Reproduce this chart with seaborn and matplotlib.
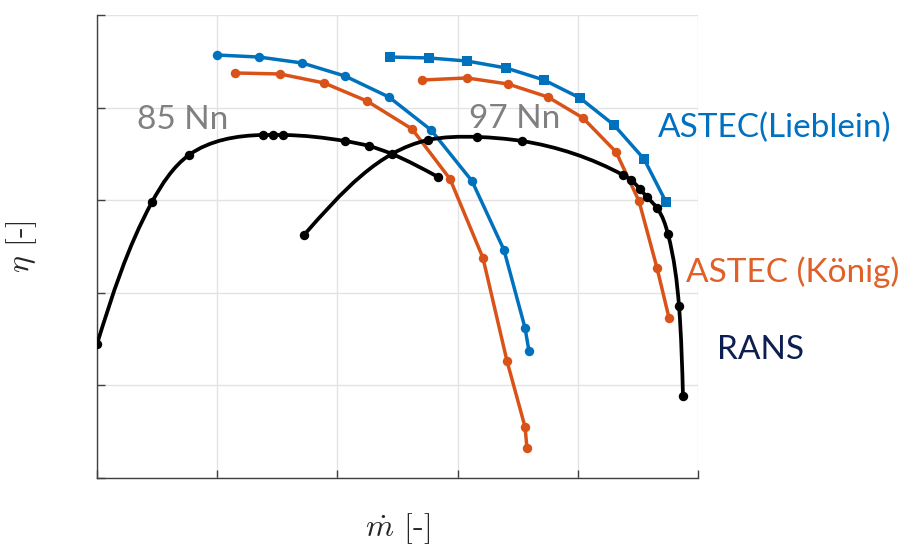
import numpy as np
import pandas as pd
import matplotlib
matplotlib.use("Agg")
import matplotlib.pyplot as plt
from matplotlib.path import Path
from matplotlib.patches import PathPatch
import seaborn as sns

# ---- data (normalised mass flow / efficiency) ----
# ASTEC (Lieblein), 85 % speed
lie85_m = [0.998, 1.348, 1.706, 2.063, 2.429, 2.779, 3.120, 3.386, 3.561, 3.594]
lie85_eta = [4.568, 4.546, 4.482, 4.341, 4.114, 3.758, 3.207, 2.462, 1.620, 1.371]
# ASTEC (König), 85 % speed
kon85_m = [1.148, 1.522, 1.889, 2.246, 2.621, 2.937, 3.211, 3.411, 3.561, 3.577]
kon85_eta = [4.374, 4.363, 4.266, 4.071, 3.769, 3.229, 2.376, 1.263, 0.551, 0.324]
# ASTEC (Lieblein), 97 % speed
lie97_m = [2.438, 2.762, 3.078, 3.403, 3.719, 4.018, 4.301, 4.551, 4.734]
lie97_eta = [4.546, 4.536, 4.503, 4.428, 4.298, 4.104, 3.812, 3.445, 2.981]
# ASTEC (König), 97 % speed
kon97_m = [2.704, 3.078, 3.419, 3.752, 4.043, 4.318, 4.509, 4.659, 4.759]
kon97_eta = [4.298, 4.320, 4.255, 4.114, 3.888, 3.521, 2.991, 2.268, 1.728]
# RANS, 85 % speed
rans85_m = [0.0, 0.458, 0.765, 1.381, 1.464, 1.547, 2.063, 2.263, 2.454, 2.837]
rans85_eta = [1.447, 2.981, 3.488, 3.704, 3.704, 3.704, 3.639, 3.585, 3.499, 3.251]
# RANS, 97 % speed
rans97_m = [1.722, 2.754, 3.161, 3.536, 4.376, 4.443, 4.517, 4.576, 4.659, 4.750, 4.842, 4.875]
rans97_eta = [2.624, 3.650, 3.683, 3.639, 3.272, 3.218, 3.121, 3.035, 2.916, 2.635, 1.857, 0.886]

speed_labels = ["85 Nn", "97 Nn"]
series_labels = ["ASTEC(Lieblein)", "ASTEC (König)", "RANS"]

BLUE = "#0072BD"
ORANGE = "#D95319"
BLACK = "#000000"

sns.set_theme(style="whitegrid")
plt.rcParams["mathtext.fontset"] = "cm"
plt.rcParams["font.family"] = ["Lato", "DejaVu Sans"]

fig = plt.figure(figsize=(9.03, 5.56), dpi=100)
ax = fig.add_axes([97 / 903, 1 - 478 / 556, 601 / 903, 463 / 556])

# pixel-per-unit scale, used so the spline parameter follows drawn arc length
SX, SY = 120.2, 92.6


def spline_path(x, y):
    """Natural cubic spline through the points, returned as a Bezier path."""
    px = np.asarray(x, float) * SX
    py = np.asarray(y, float) * SY
    h = np.hypot(np.diff(px), np.diff(py))
    n = len(px)

    def slopes(v):
        A = np.zeros((n, n))
        b = np.zeros(n)
        A[0, 0] = A[-1, -1] = 1.0
        for i in range(1, n - 1):
            A[i, i - 1] = h[i - 1]
            A[i, i] = 2 * (h[i - 1] + h[i])
            A[i, i + 1] = h[i]
            b[i] = 3 * ((v[i + 1] - v[i]) / h[i] - (v[i] - v[i - 1]) / h[i - 1])
        c = np.linalg.solve(A, b)
        bcoef = np.diff(v) / h - h * (2 * c[:-1] + c[1:]) / 3
        d_end = bcoef[-1] + 2 * c[-2] * h[-1] + 3 * (c[-1] - c[-2]) / (3 * h[-1]) * h[-1] ** 2
        return np.append(bcoef, d_end)

    dx, dy = slopes(px), slopes(py)
    verts = [(px[0], py[0])]
    codes = [Path.MOVETO]
    for i in range(n - 1):
        verts += [(px[i] + h[i] * dx[i] / 3, py[i] + h[i] * dy[i] / 3),
                  (px[i + 1] - h[i] * dx[i + 1] / 3, py[i + 1] - h[i] * dy[i + 1] / 3),
                  (px[i + 1], py[i + 1])]
        codes += [Path.CURVE4] * 3
    verts = np.array(verts)
    verts[:, 0] /= SX
    verts[:, 1] /= SY
    return Path(verts, codes)


# ASTEC curves: straight segments with markers
for m, eta, col, mk, ms in [
    (lie85_m, lie85_eta, BLUE, "o", 6.8),
    (kon85_m, kon85_eta, ORANGE, "o", 6.8),
    (lie97_m, lie97_eta, BLUE, "s", 6.8),
    (kon97_m, kon97_eta, ORANGE, "o", 6.8),
]:
    sns.lineplot(x=m, y=eta, sort=False, ax=ax, color=col, lw=2.5,
                 marker=mk, markersize=ms, markeredgewidth=0, zorder=3)

# RANS curves: smooth spline through the computed points
for m, eta in [(rans85_m, rans85_eta), (rans97_m, rans97_eta)]:
    ax.add_patch(PathPatch(spline_path(m, eta), fill=False, edgecolor=BLACK,
                           lw=2.7, capstyle="round", joinstyle="round", zorder=4))
    sns.scatterplot(x=m, y=eta, ax=ax, color=BLACK, s=46, linewidth=0, zorder=5)

ax.set_xlim(0, 5)
ax.set_ylim(0, 5)
ax.set_xticks(np.arange(0, 5.01, 1))
ax.set_yticks(np.arange(0, 5.01, 1))
ax.set_xticklabels([])
ax.set_yticklabels([])
ax.grid(True, color="#e3e3e3", lw=1.0)
ax.set_facecolor("white")
for side in ["top", "right"]:
    ax.spines[side].set_visible(False)
for side in ["left", "bottom"]:
    ax.spines[side].set_color("#404040")
    ax.spines[side].set_linewidth(1.0)
ax.tick_params(axis="both", direction="in", length=6, width=1.0,
               color="#404040", left=True, bottom=True)

ax.set_xlabel(r"$\dot{m}$ [-]", fontsize=23, fontfamily="cmr10", labelpad=20)
ax.set_ylabel(r"$\eta$ [-]", fontsize=23, fontfamily="cmr10", labelpad=38)

# speed line annotations
ax.text(0.333, 3.769, speed_labels[0], fontsize=24, color="#808080", va="baseline")
ax.text(3.095, 3.780, speed_labels[1], fontsize=24, color="#808080", va="baseline")

# series labels to the right of the plot
ax.text(4.667, 3.683, series_labels[0], fontsize=24, color="#0070C0",
        va="baseline", clip_on=False)
ax.text(4.900, 2.117, series_labels[1], fontsize=24, color="#E0602A",
        va="baseline", clip_on=False)
ax.text(5.158, 1.285, series_labels[2], fontsize=24, color="#0D1F50",
        va="baseline", clip_on=False)

fig.savefig("out.png", dpi=100)
